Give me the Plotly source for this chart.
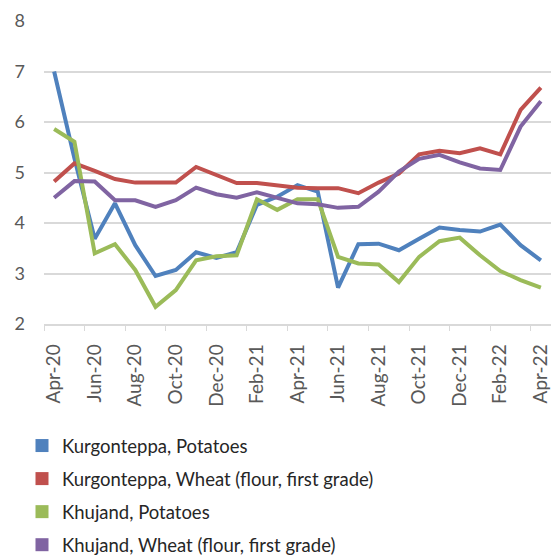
import plotly.graph_objects as go

months = ["Apr-20","May-20","Jun-20","Jul-20","Aug-20","Sep-20","Oct-20","Nov-20","Dec-20",
          "Jan-21","Feb-21","Mar-21","Apr-21","May-21","Jun-21","Jul-21","Aug-21","Sep-21",
          "Oct-21","Nov-21","Dec-21","Jan-22","Feb-22","Mar-22","Apr-22"]

kurg_potatoes = [7.00, 5.28, 3.69, 4.39, 3.56, 2.95, 3.07, 3.42, 3.31,
                 3.42, 4.36, 4.52, 4.75, 4.62, 2.72, 3.58, 3.59, 3.46,
                 3.69, 3.91, 3.86, 3.83, 3.97, 3.56, 3.26]
kurg_wheat = [4.82, 5.18, 5.03, 4.87, 4.80, 4.80, 4.80, 5.11, 4.94,
              4.79, 4.79, 4.74, 4.70, 4.69, 4.69, 4.59, 4.80, 4.98,
              5.36, 5.43, 5.38, 5.48, 5.36, 6.24, 6.68]
khuj_potatoes = [5.86, 5.61, 3.40, 3.58, 3.07, 2.34, 2.67, 3.26, 3.34,
                 3.36, 4.47, 4.26, 4.47, 4.47, 3.33, 3.20, 3.18, 2.83,
                 3.33, 3.64, 3.71, 3.36, 3.05, 2.87, 2.72]
khuj_wheat = [4.50, 4.83, 4.82, 4.45, 4.45, 4.32, 4.45, 4.70, 4.57,
              4.50, 4.61, 4.49, 4.39, 4.37, 4.30, 4.32, 4.62, 5.02,
              5.27, 5.35, 5.20, 5.08, 5.05, 5.91, 6.41]

series = [
    ("Kurgonteppa, Potatoes", kurg_potatoes, "#4F81BD"),
    ("Kurgonteppa, Wheat (flour, first grade)", kurg_wheat, "#C0504D"),
    ("Khujand, Potatoes", khuj_potatoes, "#9BBB59"),
    ("Khujand, Wheat (flour, first grade)", khuj_wheat, "#8064A2"),
]

FONT = "Lato"
fig = go.Figure()
for name, vals, col in series:
    fig.add_trace(go.Scatter(x=months, y=vals, mode="lines", name=name,
                             line=dict(color=col, width=4), showlegend=False))
for i, (name, vals, col) in enumerate(series):
    fig.add_trace(go.Scatter(x=[None], y=[None], mode="markers", name=name,
                             marker=dict(symbol="square", size=13, color=col),
                             legendgroup=f"g{i}", showlegend=True))

fig.update_layout(
    width=553, height=555,
    margin=dict(l=44, r=2, t=21, b=231, autoexpand=False),
    paper_bgcolor="white", plot_bgcolor="white",
    font=dict(family=FONT, size=18, color="#404040"),
    legend=dict(x=-0.0434, y=-0.34, xanchor="left", yanchor="top",
                orientation="v", tracegroupgap=6,
                font=dict(family=FONT, size=18.5, color="#262626"),
                itemwidth=30),
    showlegend=True,
)
fig.update_xaxes(
    type="category", tickmode="linear", tick0=0, dtick=2,
    tickson="boundaries", ticks="outside", ticklen=5, tickcolor="#d9d9d9",
    tickangle=-90, showgrid=False, showline=True, linecolor="#d9d9d9", linewidth=1.5,
    tickfont=dict(family=FONT, size=19, color="#595959"),
    range=[-0.5, 24.5], ticklabelstandoff=11, automargin=False,
)
fig.update_yaxes(
    range=[2, 8], dtick=1, showgrid=True, gridcolor="#d9d9d9", gridwidth=1.5,
    zeroline=False, showline=False,
    tickfont=dict(family=FONT, size=18, color="#595959"),
    ticklabelstandoff=18, automargin=False,
)
fig.write_html("out.html", config={"displayModeBar": False},
               post_script="document.body.style.margin='0';document.body.style.overflow='hidden';")
